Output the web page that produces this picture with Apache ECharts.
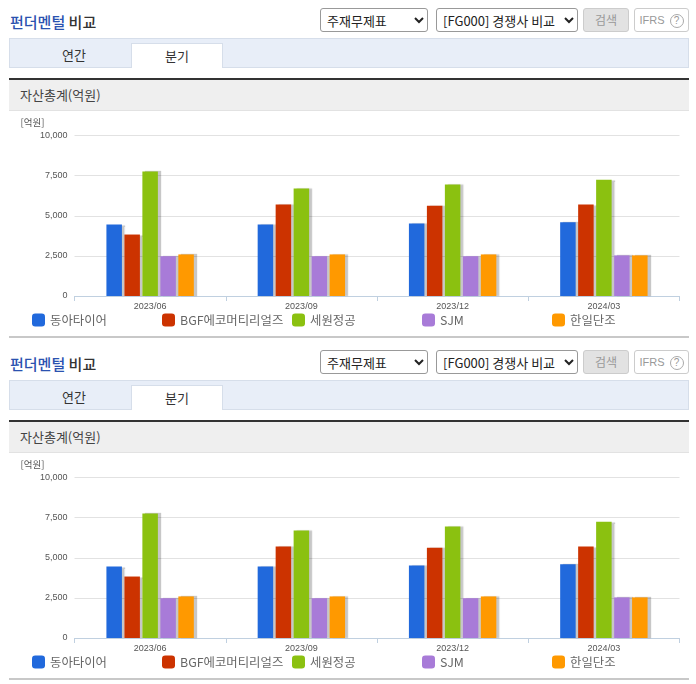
<!DOCTYPE html>
<html>
<head>
<meta charset="utf-8">
<script src="https://cdn.jsdelivr.net/npm/echarts@6/dist/echarts.min.js"></script>
<style>
*{box-sizing:border-box}
html,body{margin:0;padding:0;background:#fff;overflow:hidden}
body{width:696px;height:684px;position:relative;font-family:"Noto Sans CJK KR",sans-serif;color:#333}
.panel{position:absolute;left:0;width:696px;height:342px}
.panel>*{position:absolute}
.title{left:10px;top:12px;font-size:15px;line-height:20px;font-weight:500;color:#333}
.title b{font-weight:500;color:#2a52b0}
select{height:24px;top:8px;font-family:"Noto Sans CJK KR",sans-serif;font-size:13px;padding:0 0 0 2px;border:1px solid #999;border-radius:3px;background:#fff;color:#222}
.sel1{left:320px;width:108px}
.sel2{left:436px;width:142px}
.btn{top:8px;height:24px;border-radius:3px;font-size:12px;line-height:22px;text-align:center;color:#999}
.find{left:583px;width:46px;background:#e2e2e2;border:1px solid #ccc}
.ifrs{left:634px;width:55px;background:#fff;border:1px solid #ccc;font-family:"Liberation Sans",sans-serif;font-size:11px}
.ifrs i{display:inline-block;width:14px;height:14px;line-height:12px;border:1px solid #aaa;border-radius:50%;font-style:normal;font-size:10px;margin-left:2px}
.tabs{left:9px;top:38px;width:680px;height:30px;background:#e8eef8;border:1px solid #d6deea}
.tab{top:43px;height:25px;font-size:13px;line-height:23px;text-align:center}
.t1{left:17px;width:114px}
.t2{left:131px;width:92px;background:#fff;border:1px solid #d6deea;border-bottom:0}
.head{left:9px;top:78px;width:680px;height:33px;background:#efefef;border-top:2px solid #333;border-bottom:1px solid #e2e2e2;font-size:13px;line-height:29px;padding-left:11px;color:#444}
.chart{left:0;top:111px;width:696px;height:225px}
.end{left:9px;top:336px;width:680px;height:2px;background:#c8c8c8}
</style>
</head>
<body>
<script>
var categories = ['2023/06','2023/09','2023/12','2024/03'];
var tickLabels = [0,2500,5000,7500,10000];
var companies = ['동아타이어','BGF에코머티리얼즈','세원정공','SJM','한일단조'];
var colors = ['#2169dc','#cc3300','#8bc110','#a87bd8','#ff9900'];
var donga = [4450,4450,4520,4590];
var bgf = [3830,5700,5630,5700];
var sewon = [7760,6700,6950,7240];
var sjm = [2480,2480,2480,2530];
var hanil = [2590,2590,2590,2530];
var seriesValues = [donga,bgf,sewon,sjm,hanil];
var legendLeft = [32,162,292,422,552];

function makePanel(top){
	var el = document.createElement('div');
	el.className = 'panel';
	el.style.top = top+'px';
	el.innerHTML = '<div class="title"><b>펀더멘털</b> 비교</div>'+
		'<select class="sel1"><option>주재무제표</option></select>'+
		'<select class="sel2"><option>[FG000] 경쟁사 비교</option></select>'+
		'<div class="btn find">검색</div>'+
		'<div class="btn ifrs">IFRS <i>?</i></div>'+
		'<div class="tabs"></div>'+
		'<div class="tab t1">연간</div>'+
		'<div class="tab t2">분기</div>'+
		'<div class="head">자산총계(억원)</div>'+
		'<div class="chart"></div>'+
		'<div class="end"></div>';
	document.body.appendChild(el);
	return el.querySelector('.chart');
}

function drawChart(dom){
	var myChart = echarts.init(dom,null,{renderer:'canvas'});
	var legends = [];
	var series = [];
	for(var i=0;i<companies.length;i++){
		legends.push({
			left:legendLeft[i],
			top:202.5,
			padding:0,
			itemWidth:13,
			itemHeight:13,
			icon:'roundRect',
			data:[companies[i]],
			textStyle:{color:'#666',fontSize:12.4,fontFamily:'"Noto Sans CJK KR"'},
			selectedMode:false
		});
		series.push({
			name:companies[i],
			type:'bar',
			data:seriesValues[i],
			barWidth:15.5,
			barGap:'16%',
			itemStyle:{color:colors[i],shadowColor:'rgba(0,0,0,0.22)',shadowOffsetX:3,shadowOffsetY:0,shadowBlur:1}
		});
	}
	myChart.setOption({
		animation:false,
		color:colors,
		legend:legends,
		grid:{left:74.5,right:16.5,top:24.5,height:160.5},
		xAxis:{
			type:'category',
			data:categories,
			axisLine:{lineStyle:{color:'#c0d0e0',width:1}},
			axisTick:{show:true,alignWithLabel:false,length:5,lineStyle:{color:'#c0d0e0'}},
			axisLabel:{color:'#555',fontSize:9,fontFamily:'"Liberation Sans"',margin:6}
		},
		yAxis:{
			type:'value',
			min:0,
			max:tickLabels[tickLabels.length-1],
			interval:tickLabels[1],
			name:'[억원]',
			nameLocation:'end',
			nameGap:8,
			nameTextStyle:{color:'#555',fontSize:9.5,fontFamily:'"Noto Sans CJK KR"',align:'left',padding:[0,0,0,-54]},
			axisLine:{show:false},
			axisTick:{show:false},
			axisLabel:{color:'#555',fontSize:9,fontFamily:'"Liberation Sans"',margin:7,
				formatter:function(v){return v.toLocaleString('en-US');}},
			splitLine:{lineStyle:{color:'#e2e2e2',width:1}}
		},
		series:series
	});
}

drawChart(makePanel(0));
drawChart(makePanel(342));
</script>
</body>
</html>
